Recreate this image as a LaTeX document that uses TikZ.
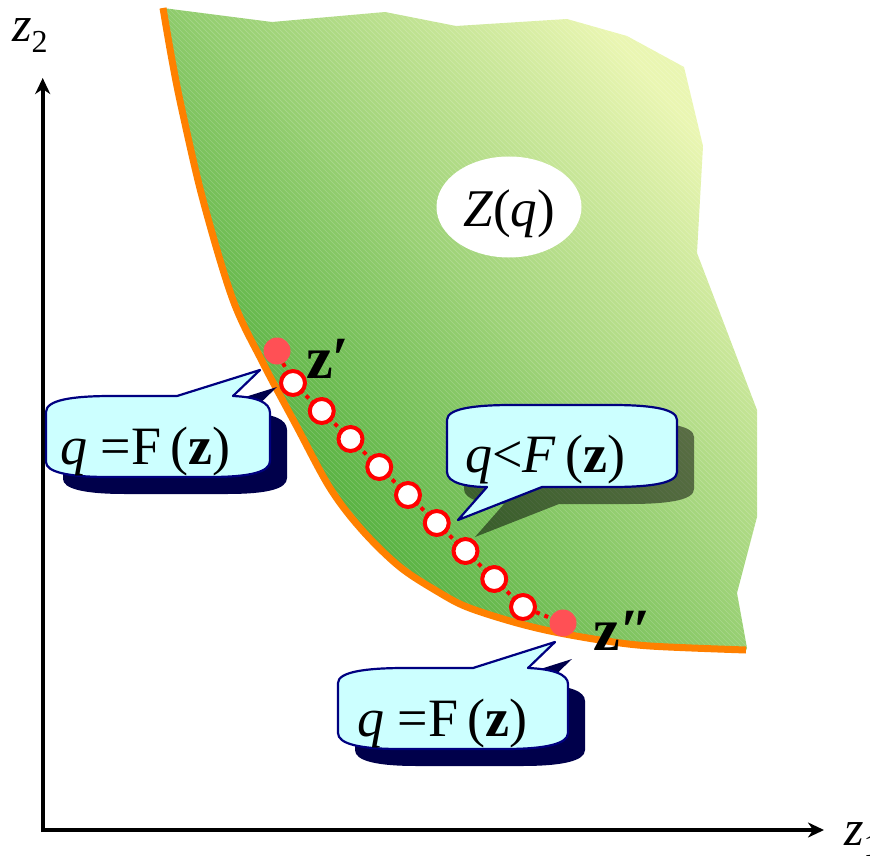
\documentclass[tikz,border=0pt]{standalone}
\usepackage{fontspec}
\setmainfont{Liberation Serif}
\usetikzlibrary{arrows.meta,shapes.geometric}
\definecolor{gdark}{RGB}{60,165,45}
\definecolor{gmid}{RGB}{122,196,92}
\definecolor{glight}{RGB}{234,246,178}
\definecolor{curveorange}{RGB}{255,128,0}
\definecolor{callfill}{RGB}{204,255,255}
\definecolor{callborder}{RGB}{0,0,128}
\definecolor{navyshadow}{RGB}{0,0,75}
\definecolor{dotred}{RGB}{255,80,85}
\begin{document}
\begin{tikzpicture}[x=1pt,y=-1pt,
  axis/.style={line width=4pt,-{Stealth[length=16pt,width=15pt,inset=5pt]}},
  callbox/.style={fill=callfill,draw=callborder,line width=2.2pt,line join=round},
  reddot/.style={circle,fill=dotred,minimum size=27pt,inner sep=0pt},
  wcirc/.style={circle,fill=white,draw=red,line width=4pt,minimum size=24pt,inner sep=0pt},
  chain/.style={red,line width=4pt,dash pattern=on 4pt off 4pt,shorten <=-4pt,shorten >=-4pt},
  bigtext/.style={inner sep=0pt,anchor=base west,font=\fontsize{54}{60}\selectfont},
  ptlabel/.style={inner sep=0pt,anchor=base west,font=\fontsize{60}{66}\selectfont\bfseries},
  hatch/.style={white,line width=0.7pt,opacity=0.18},
]
\useasboundingbox (0,0) rectangle (870,861);

\def\curvepts{(163,8) (172,60) (182,110) (203,200) (233,300) (263,363) (296,425) (330,488) (362,530) (400,567) (440,593) (467,607) (510,621) (550,631) (600,640) (650,646) (746,650)}
\def\regionpath{plot[smooth,tension=0.55] coordinates {\curvepts} -- (747,648) -- (737,593) -- (757,517) -- (757,410) -- (715,300) -- (697,253) -- (703,146) -- (684,67) -- (627,36) -- (567,19) -- (456,26) -- (385,12) -- (272,22) -- cycle}

% region
\shade[top color=glight,middle color=gmid,bottom color=gdark,shading angle=-50] \regionpath;
\begin{scope}
  \clip \regionpath;
  \foreach \k in {-700,-695,...,700} \draw[hatch] (160+\k,0) -- (820+\k,660);
\end{scope}
\draw[curveorange,line width=7pt] plot[smooth,tension=0.55] coordinates {\curvepts};

% Z(q)
\node[ellipse,fill=white,minimum width=145pt,minimum height=101pt,inner sep=0pt] (zq) at (509,207) {};
\node[inner sep=0pt,anchor=base west,font=\fontsize{53}{60}\selectfont] (zqt) at (463,227) {\textit{Z}(\textit{q})};

% chain of points
\node[reddot] (s) at (277,351) {};
\foreach \i in {1,...,9} \node[wcirc] (c\i) at ({293+28.75*(\i-1)},{383+28*(\i-1)}) {};
\node[reddot] (e) at (563,623) {};
\foreach \a/\b in {c1/c2,c2/c3,c3/c4,c4/c5,c5/c6,c6/c7,c7/c8,c8/c9} \draw[chain] (\a) -- (\b);
\draw[red,line width=4pt,dash pattern=on 4pt off 5pt] (s) -- (c1);
\draw[red,line width=4pt,dash pattern=on 4pt off 5pt] (c9) -- (e);

% point labels
\node[ptlabel] (zp) at (306,378) {z′};
\node[ptlabel] (zpp) at (593,650) {z″};

% axes
\coordinate (o) at (42.7,832);
\coordinate (ytip) at (42.7,78);
\coordinate (xtip) at (824,830);
\coordinate (ox) at (41,830);
\draw[axis] (o) -- (ytip);
\draw[axis] (ox) -- (xtip);
\node[inner sep=0pt,anchor=base west,font=\fontsize{50}{56}\selectfont] (z2) at (12,42) {\textit{z}\raisebox{-11pt}{\fontsize{32}{36}\selectfont 2}};
\node[inner sep=0pt,anchor=base west,font=\fontsize{50}{56}\selectfont] (z1) at (844,845) {\textit{z}\raisebox{-11pt}{\fontsize{32}{36}\selectfont 1}};

% callouts
\def\calloutA{(46,412) .. controls (46,400) and (72,396) .. (112,396) -- (177,396) -- (260,370) -- (233,396) .. controls (256,397) and (270,402) .. (270,413) -- (270,461) .. controls (270,472) and (250,477) .. (210,477) -- (108,477) .. controls (68,477) and (46,472) .. (46,462) -- cycle}
\def\calloutB{(447,420) .. controls (447,409) and (472,405) .. (512,405) -- (612,405) .. controls (652,405) and (677,409) .. (677,420) -- (677,472) .. controls (677,483) and (652,487) .. (612,487) -- (542,487) -- (458,520) -- (487,487) .. controls (467,487) and (447,483) .. (447,472) -- cycle}
\def\calloutC{(338,683) .. controls (338,672) and (365,668) .. (405,668) -- (473,668) -- (555,642) -- (528,668) .. controls (552,669) and (568,674) .. (568,684) -- (568,733) .. controls (568,744) and (545,749) .. (505,749) -- (400,749) .. controls (360,749) and (338,744) .. (338,733) -- cycle}

\fill[navyshadow,shift={(17,17)}] \calloutA;
\path[callbox] \calloutA;
\node[bigtext] (t1) at (60,464) {\textit{q} =F\,(\textbf{z})};

\fill[black,fill opacity=0.5,shift={(17,17)}] \calloutB;
\path[callbox] \calloutB;
\node[bigtext] (t2) at (465,472) {\textit{q}<\textit{F}\,(\textbf{z})};

\fill[navyshadow,shift={(17,17)}] \calloutC;
\path[callbox] \calloutC;
\node[bigtext] (t3) at (357,736) {\textit{q} =F\,(\textbf{z})};
\end{tikzpicture}
\end{document}
